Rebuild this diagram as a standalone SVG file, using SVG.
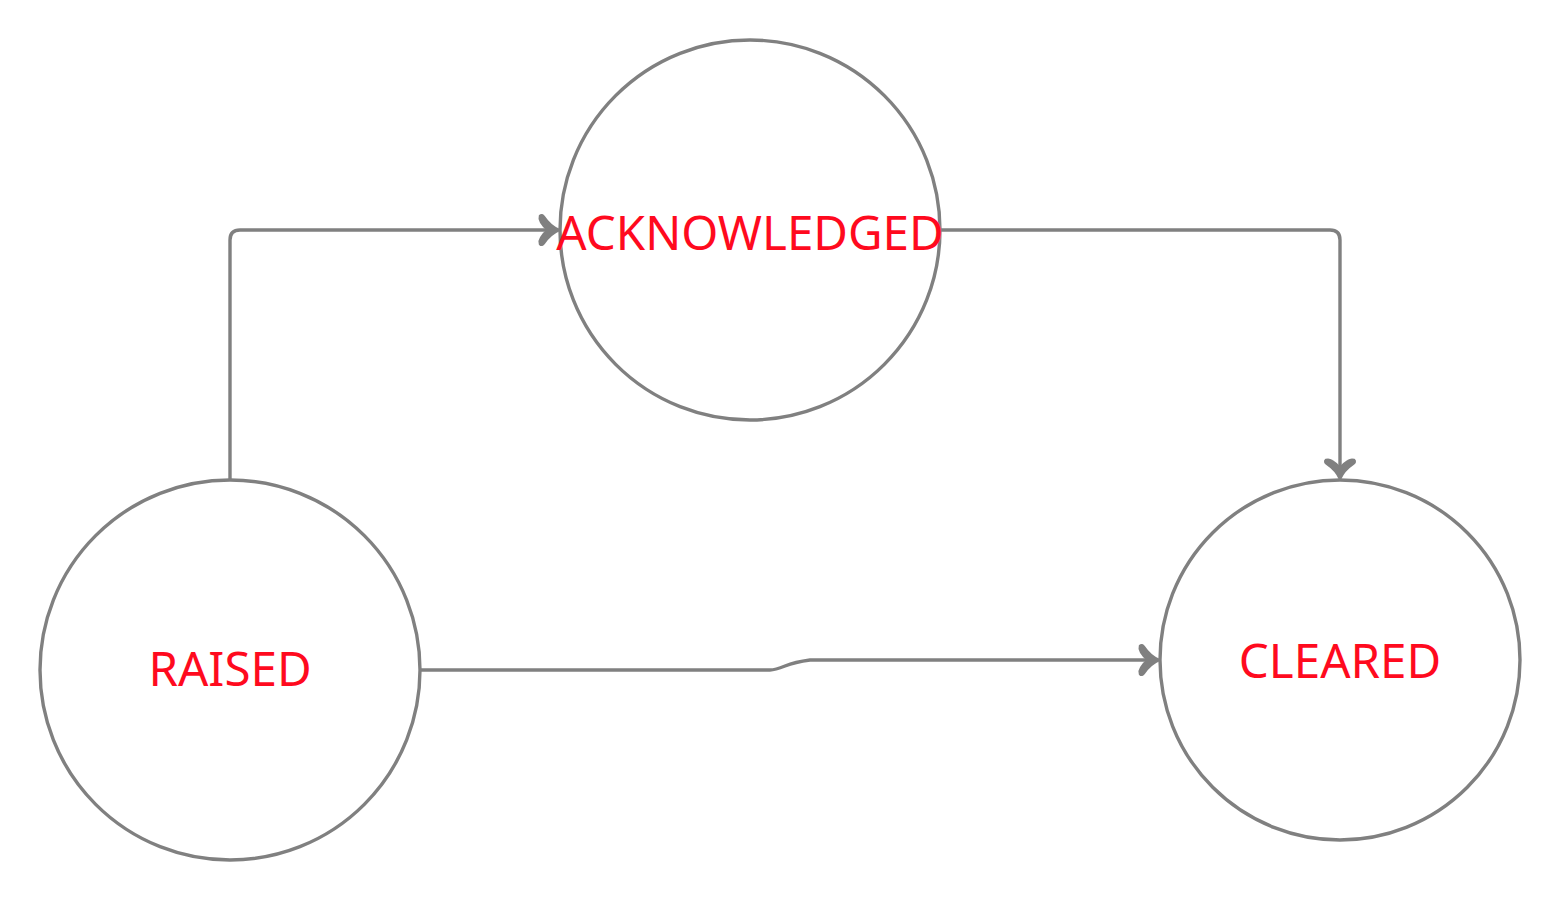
<svg xmlns="http://www.w3.org/2000/svg" width="1560" height="900" viewBox="0 0 1560 900">
<style>
.node{fill:#ffffff;stroke:#808080;stroke-width:3.4}
.lbl{font-family:"Noto Sans","Open Sans",sans-serif;font-size:47.5px;fill:#ff0a1e;text-anchor:middle}
.edge{fill:none;stroke:#808080;stroke-width:3.4;stroke-linejoin:round}
</style>
<defs>
<marker id="arr" markerUnits="userSpaceOnUse" markerWidth="40" markerHeight="44" viewBox="-22 -22 26 44" refX="0" refY="0" orient="auto" overflow="visible">
<path d="M1,0 Q-8,-4 -14,-13 Q-16,-16 -18,-14 Q-19,-11 -17,-8 Q-14,-3 -10,0 Q-14,3 -17,8 Q-19,11 -18,14 Q-16,16 -14,13 Q-8,4 1,0Z" fill="#808080" stroke="#808080" stroke-width="2.5" stroke-linejoin="round"/>
</marker>
</defs>
<rect width="1560" height="900" fill="#ffffff"/>
<g id="connectors">
<path class="edge" d="M230,480 V240 Q230,230 240,230 H558" marker-end="url(#arr)"/>
<path class="edge" d="M940,230 H1330 Q1340,230 1340,240 V478" marker-end="url(#arr)"/>
<path class="edge" d="M420,670 H770 Q775,670 785,666 Q795,662 810,660 H1158" marker-end="url(#arr)"/>
</g>
<g id="node-acknowledged">
<circle class="node" cx="750" cy="230" r="190"/>
<text class="lbl" x="750" y="250">ACKNOWLEDGED</text>
</g>
<g id="node-raised">
<circle class="node" cx="230" cy="670" r="190"/>
<text class="lbl" x="230" y="686">RAISED</text>
</g>
<g id="node-cleared">
<circle class="node" cx="1340" cy="660" r="180"/>
<text class="lbl" x="1340" y="678">CLEARED</text>
</g>
</svg>
